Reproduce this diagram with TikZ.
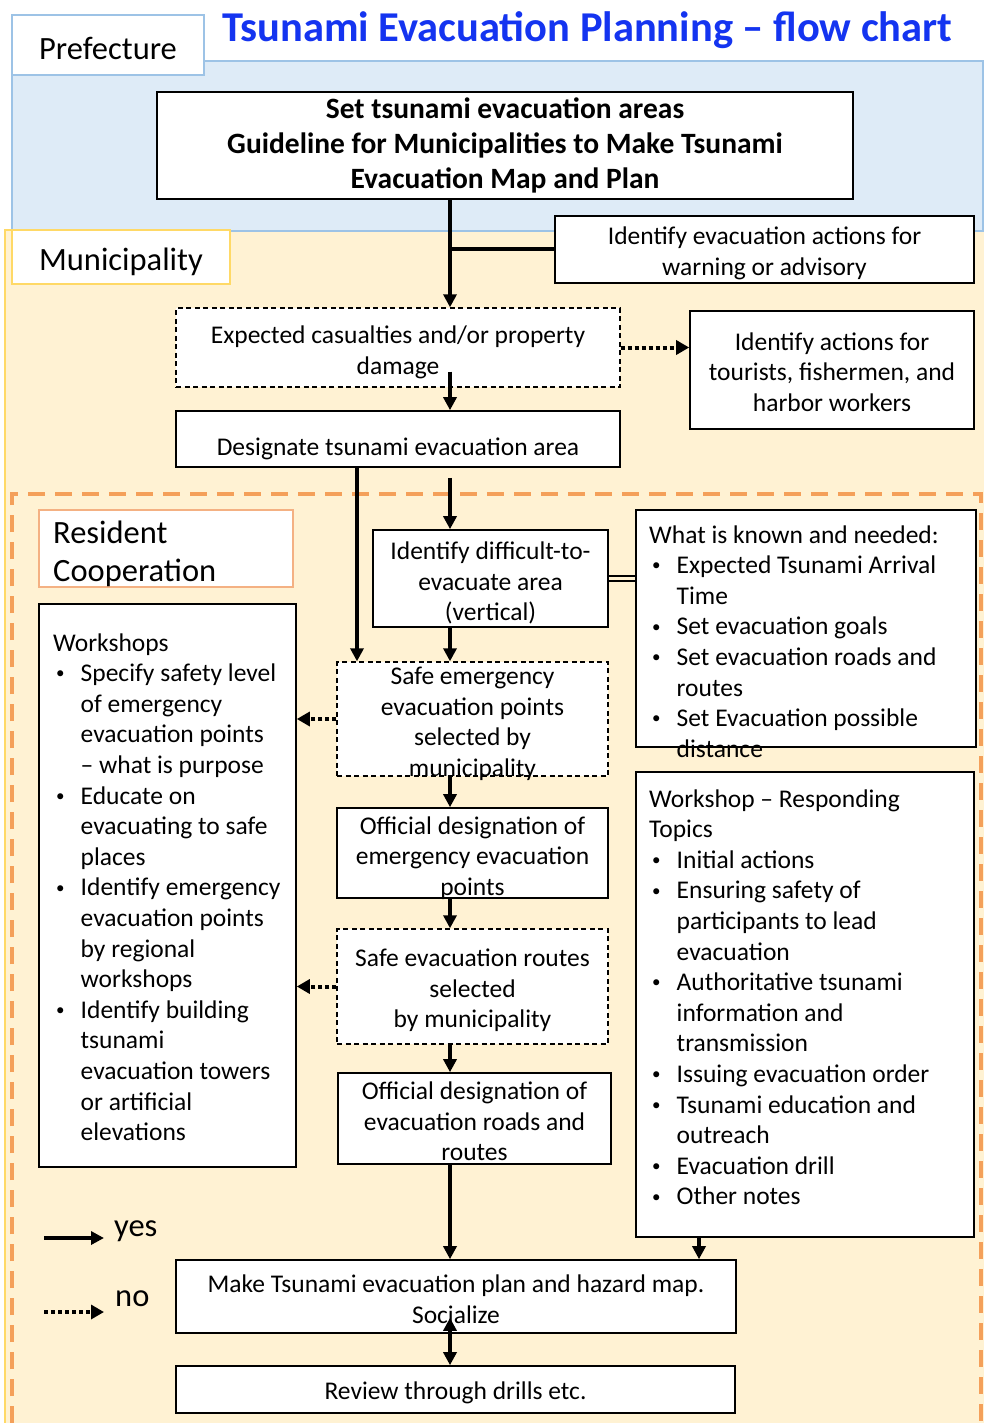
\documentclass[tikz,border=0pt]{standalone}
\usepackage{fontspec}
\setmainfont{Carlito}
\usetikzlibrary{arrows.meta,calc}
\definecolor{prefFill}{HTML}{DEEBF7}
\definecolor{prefLine}{HTML}{9DC3E6}
\definecolor{muniFill}{HTML}{FFF2D3}
\definecolor{muniLine}{HTML}{FFD966}
\definecolor{resLine}{HTML}{F4A05A}
\definecolor{resLabel}{HTML}{F4B183}
\definecolor{titleBlue}{HTML}{1434F0}
\newcommand{\bodyfont}{\fontsize{25.5}{30.6}\selectfont}
\newcommand{\labelfont}{\fontsize{32.5}{38}\selectfont}
\newcommand{\mainboxfont}{\fontsize{29.5}{35}\selectfont\bfseries}
\newcommand{\titlefont}{\fontsize{42.5}{48}\selectfont\bfseries}
\newcommand{\smallbullet}{\raisebox{2.8pt}{\fontsize{17}{17}\selectfont\textbullet}}
\newcommand{\itm}[1]{\par\hangindent=27.5pt\hangafter=1\noindent\makebox[27.5pt][l]{\hspace{3pt}\smallbullet}#1}
\begin{document}
\begin{tikzpicture}[x=1pt,y=-1pt,
  box/.style={draw=black, line width=1.6pt, fill=white, inner sep=0pt},
  dbox/.style={box, dash pattern=on 5pt off 3.5pt, line width=1.4pt},
  btxt/.style={align=center, inner sep=0pt, font=\bodyfont},
  arr/.style={line width=3.5pt, -{Triangle[length=13pt,width=13pt]}},
  darr/.style={line width=4pt, dash pattern=on 4pt off 3pt, -{Triangle[length=13pt,width=14pt]}},
  lbl/.style={fill=white, inner sep=0pt},
  txt/.style={anchor=base west, inner sep=0pt}]
\useasboundingbox (0,0) rectangle (984,1423);
% regions
\fill[muniFill] (5,230) rectangle (984,1423);
\draw[muniLine, line width=1.2pt] (5,1423) -- (5,230) -- (984,230);
\fill[prefFill] (12,61) rectangle (983,231);
\draw[prefLine, line width=1.5pt] (12,61) rectangle (983,231);
\draw[resLine, line width=4pt, dash pattern=on 17pt off 10pt] (12,1423) -- (12,494) -- (981,494) -- (981,1423);
% labels
\node[lbl, draw=prefLine, line width=1.5pt, minimum width=192pt, minimum height=60pt] (pref) at (108,45) {};
\node[inner sep=0pt, font=\labelfont] (prefT) at ($(pref.center)+(0,3)$) {Prefecture};
\node[txt, font=\titlefont, text=titleBlue] (title) at (222,42) {Tsunami Evacuation Planning -- flow chart};
\node[lbl, draw=muniLine, line width=1.5pt, minimum width=218pt, minimum height=54pt] (muni) at (121,257) {};
\node[inner sep=0pt, font=\labelfont] (muniT) at ($(muni.center)+(0,5)$) {Municipality};
\node[lbl, draw=resLabel, line width=1.5pt, minimum width=254pt, minimum height=77pt] (resBox) at (166,548.5) {};
\node[txt] (resT) at (53,543) {\parbox[t]{230pt}{\labelfont Resident\\Cooperation}};
% spine coordinates
\coordinate (sp) at (450,0);
\coordinate (lsp) at (357,0);
\coordinate (rsp) at (699,0);
% boxes
\node[box, minimum width=696pt, minimum height=107pt] (main) at (505,145.5) {};
\node[btxt, font=\mainboxfont] (mainT) at (main.center) {Set tsunami evacuation areas\\Guideline for Municipalities to Make Tsunami\\Evacuation Map and Plan};
\node[box, minimum width=419pt, minimum height=67pt] (warn) at (764.5,249.5) {};
\node[btxt] (warnT) at ($(warn.center)+(0,4)$) {Identify evacuation actions for\\warning or advisory};
\node[dbox, minimum width=444pt, minimum height=79pt] (expected) at (398,347.5) {};
\node[btxt] (expectedT) at ($(expected.center)+(0,5)$) {Expected casualties and/or property\\damage};
\node[box, minimum width=284pt, minimum height=118pt] (tourists) at (832,370) {};
\node[btxt] (touristsT) at ($(tourists.center)+(0,2)$) {Identify actions for\\tourists, fishermen, and\\harbor workers};
\node[box, minimum width=444pt, minimum height=56pt] (designate) at (398,439) {};
\node[btxt] (designateT) at ($(designate.center)+(0,10)$) {Designate tsunami evacuation area};
\node[box, minimum width=235pt, minimum height=97pt] (difficult) at (490.5,578.5) {};
\node[btxt] (difficultT) at ($(difficult.center)+(0,4.5)$) {Identify difficult-to-\\evacuate area\\(vertical)};
\node[box, minimum width=340pt, minimum height=237pt] (known) at (806,628.5) {};
\node[txt] (knownT) at (649,543) {\parbox[t]{320pt}{\bodyfont\raggedright\noindent What is known and needed:\itm{Expected Tsunami Arrival\newline Time}\itm{Set evacuation goals}\itm{Set evacuation roads and\newline routes}\itm{Set Evacuation possible\newline distance}}};
\node[dbox, minimum width=271pt, minimum height=114pt] (safeEm) at (472.5,719) {};
\node[btxt] (safeEmT) at ($(safeEm.center)+(0,5)$) {Safe emergency\\evacuation points\\selected by\\municipality};
\node[box, minimum width=257pt, minimum height=563pt] (workshops) at (167.5,885.5) {};
\node[txt] (workT) at (53,651) {\parbox[t]{240pt}{\bodyfont\raggedright\noindent Workshops\itm{Specify safety level\newline of emergency\newline evacuation points\newline -- what is purpose}\itm{Educate on\newline evacuating to safe\newline places}\itm{Identify emergency\newline evacuation points\newline by regional\newline workshops}\itm{Identify building\newline tsunami\newline evacuation towers\newline or artificial\newline elevations}}};
\node[box, minimum width=271pt, minimum height=90pt] (offEm) at (472.5,853) {};
\node[btxt] (offEmT) at ($(offEm.center)+(0,5)$) {Official designation of\\emergency evacuation\\points};
\node[dbox, minimum width=271pt, minimum height=115pt] (safeRoutes) at (472.5,986.5) {};
\node[btxt] (safeRoutesT) at ($(safeRoutes.center)+(0,4)$) {Safe evacuation routes\\selected\\by municipality};
\node[box, minimum width=273pt, minimum height=91pt] (offRoads) at (474.5,1118.5) {};
\node[btxt] (offRoadsT) at ($(offRoads.center)+(0,3)$) {Official designation of\\evacuation roads and\\routes};
\node[box, minimum width=338pt, minimum height=465pt] (respond) at (805,1004.5) {};
\node[txt] (respT) at (649,807) {\parbox[t]{320pt}{\bodyfont\raggedright\noindent Workshop -- Responding\newline Topics\itm{Initial actions}\itm{Ensuring safety of\newline participants to lead\newline evacuation}\itm{Authoritative tsunami\newline information and\newline transmission}\itm{Issuing evacuation order}\itm{Tsunami education and\newline outreach}\itm{Evacuation drill}\itm{Other notes}}};
\node[box, minimum width=560pt, minimum height=73pt] (make) at (456,1296.5) {};
\node[btxt] (makeT) at ($(make.center)+(0,3)$) {Make Tsunami evacuation plan and hazard map.\\Socialize};
\node[box, minimum width=559pt, minimum height=47pt] (review) at (455.5,1389.5) {};
\node[btxt] (reviewT) at ($(review.center)+(0,3)$) {Review through drills etc.};
% connectors
\draw[arr] (main.south -| sp) -- (expected.north -| sp);
\draw[line width=4pt] (warn.west) -- (warn.west -| sp);
\draw[darr] (expected.east) -- (expected.east -| tourists.west);
\draw[arr] ($(expected.south -| sp)+(0,-16)$) -- (designate.north -| sp);
\draw[arr] (designate.south -| lsp) -- (safeEm.north -| lsp);
\draw[arr] ($(designate.south -| sp)+(0,10)$) -- (difficult.north -| sp);
\draw[line width=2.6pt, double=muniFill, double distance=2.4pt] (difficult.east) -- (difficult.east -| known.west);
\draw[arr] (difficult.south -| sp) -- (safeEm.north -| sp);
\draw[darr] (safeEm.west) -- (safeEm.west -| workshops.east);
\draw[arr] (safeEm.south -| sp) -- (offEm.north -| sp);
\draw[arr] (offEm.south -| sp) -- (safeRoutes.north -| sp);
\draw[darr] (safeRoutes.west) -- (safeRoutes.west -| workshops.east);
\draw[arr] (safeRoutes.south -| sp) -- (offRoads.north -| sp);
\draw[arr] (offRoads.south -| sp) -- (make.north -| sp);
\draw[arr] (respond.south -| rsp) -- (make.north -| rsp);
\draw[line width=3.5pt, {Triangle[length=13pt,width=13pt]}-{Triangle[length=13pt,width=13pt]}] ($(make.south -| sp)+(0,-16)$) -- (review.north -| sp);
% legend
\coordinate (yesS) at (44,1238);
\coordinate (yesE) at (104,1238);
\draw[arr, line width=4pt] (yesS) -- (yesE);
\node[txt, font=\labelfont] (yesT) at (114,1236) {yes};
\coordinate (noS) at (44,1312);
\coordinate (noE) at (104,1312);
\draw[darr] (noS) -- (noE);
\node[txt, font=\labelfont] (noT) at (115,1306) {no};
\end{tikzpicture}
\end{document}
